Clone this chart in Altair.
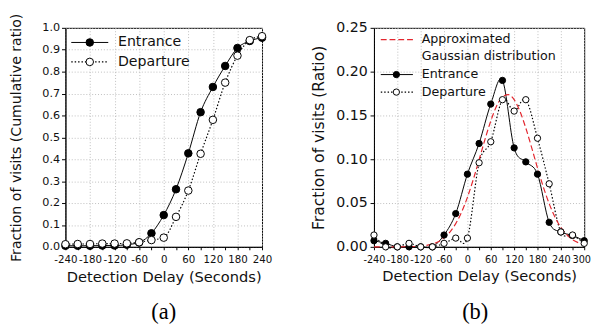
import altair as alt
import pandas as pd

# ---------------- data ----------------
delay_a = [-240, -210, -180, -150, -120, -90, -60, -30, 0, 30, 60, 90, 120, 150, 180, 210, 240]
entrance_cum = [0.005, 0.005, 0.005, 0.006, 0.006, 0.010, 0.020, 0.062, 0.145, 0.263, 0.427,
                0.615, 0.730, 0.826, 0.908, 0.940, 0.955]
departure_cum = [0.012, 0.013, 0.013, 0.015, 0.015, 0.016, 0.021, 0.031, 0.042, 0.137, 0.257,
                 0.425, 0.580, 0.750, 0.873, 0.944, 0.962]

delay_b = [-240, -210, -180, -150, -120, -90, -60, -30, 0, 30, 60, 90, 120, 150, 180, 210, 240, 270, 300]
entrance_ratio = [0.007, 0.004, 0.000, 0.000, 0.000, 0.000, 0.0135, 0.038, 0.083, 0.118, 0.163,
                  0.190, 0.113, 0.097, 0.083, 0.028, 0.017, 0.013, 0.007]
departure_ratio = [0.0135, 0.000, 0.000, 0.004, 0.000, 0.000, 0.004, 0.010, 0.010, 0.096, 0.120,
                   0.168, 0.155, 0.168, 0.124, 0.072, 0.017, 0.0135, 0.004]

delay_fit = [-240, -225, -210, -195, -180, -165, -150, -135, -120, -105, -90, -75, -60, -45, -30, -15,
             0, 15, 30, 45, 60, 75, 90, 105, 120, 135, 150, 165, 180, 195, 210, 225, 240, 255, 270, 285, 300]
gaussian_fit = [0.0, 0.0, 0.0, 0.0, 0.0, 0.0001, 0.0002, 0.0004, 0.0008, 0.0017, 0.0032, 0.0059, 0.0102,
                0.0168, 0.0265, 0.0396, 0.0565, 0.0768, 0.0994, 0.1225, 0.1437, 0.1608, 0.1713, 0.1737,
                0.1680, 0.1547, 0.1356, 0.1133, 0.0901, 0.0683, 0.0493, 0.0339, 0.0222, 0.0139, 0.0082,
                0.0047, 0.0025]

xticks_a = list(range(-240, 241, 30))
xticks_b = list(range(-240, 301, 30))
yticks_a = [round(i * 0.1, 1) for i in range(11)]
yticks_b = [round(i * 0.05, 2) for i in range(6)]

df_ent_a = pd.DataFrame({"delay": delay_a, "value": entrance_cum})
df_dep_a = pd.DataFrame({"delay": delay_a, "value": departure_cum})
df_ent_b = pd.DataFrame({"delay": delay_b, "value": entrance_ratio})
df_dep_b = pd.DataFrame({"delay": delay_b, "value": departure_ratio})
df_fit_b = pd.DataFrame({"delay": delay_fit, "value": gaussian_fit})
dummy = pd.DataFrame({"k": [0]})

FONT = "DejaVu Sans"
grid_cond = {"condition": {"test": "datum.value % 60 === 0", "value": 1}, "value": 0}
label_expr = "datum.value % 60 === 0 ? ('' + datum.value) : ''"
last_label_offset = {"condition": {"test": "datum.value === 300", "value": -3}, "value": 0}


def legend_rule(x1, x2, y, color="black", dash=None, width=1):
    kw = dict(color=color, strokeWidth=width)
    if dash:
        kw["strokeDash"] = dash
    return alt.Chart(dummy).mark_rule(**kw).encode(x=alt.value(x1), x2=alt.value(x2), y=alt.value(y))


def legend_point(x, y, fill, size):
    return alt.Chart(dummy).mark_point(shape="circle", filled=True, fill=fill, stroke="black",
                                       strokeWidth=1, size=size, opacity=1).encode(
        x=alt.value(x), y=alt.value(y))


def legend_text(x, y, txt, size):
    return alt.Chart(dummy).mark_text(align="left", baseline="middle", font=FONT, fontSize=size,
                                      color="#111").encode(x=alt.value(x), y=alt.value(y), text=alt.value(txt))


# ---------------- panel (a) ----------------
xa = alt.X("delay:Q", scale=alt.Scale(domain=[-240, 240], nice=False),
           axis=alt.Axis(values=xticks_a, labelExpr=label_expr, gridOpacity=grid_cond,
                         title="Detection Delay (Seconds)", labelFontSize=10.5, titleFontSize=15,
                         tickSize=3, labelPadding=5, titlePadding=5, labelOverlap=False, labelFlush=False))
ya = alt.Y("value:Q", scale=alt.Scale(domain=[0, 1.0], nice=False),
           axis=alt.Axis(values=yticks_a, format=".1f", title="Fraction of visits (Cumulative ratio)",
                         labelFontSize=11.5, titleFontSize=14.5, tickSize=4, labelPadding=2,
                         titlePadding=19, labelOverlap=False))

PA = 60
a_layers = [
    alt.Chart(df_ent_a).mark_line(interpolate="monotone", color="black", strokeWidth=1).encode(x=xa, y=ya),
    alt.Chart(df_dep_a).mark_line(interpolate="monotone", color="black", strokeWidth=1.2,
                                  strokeDash=[1.5, 2]).encode(x=xa, y=ya),
    alt.Chart(df_ent_a).mark_point(shape="circle", filled=True, fill="black", stroke="black",
                                   strokeWidth=1, size=PA, opacity=1).encode(x=xa, y=ya),
    alt.Chart(df_dep_a).mark_point(shape="circle", filled=True, fill="white", stroke="black",
                                   strokeWidth=1, size=PA, opacity=1).encode(x=xa, y=ya),
    legend_rule(6, 44, 15),
    legend_point(25, 15, "black", PA),
    legend_text(54, 15, "Entrance", 14.5),
    legend_rule(6, 44, 35, dash=[1.5, 2], width=1.2),
    legend_point(25, 35, "white", PA),
    legend_text(54, 35, "Departure", 14.5),
]
panel_a = alt.layer(*a_layers).properties(
    width=202, height=225,
    title=alt.TitleParams("(a)", orient="bottom", font="Liberation Serif", fontSize=23,
                          fontWeight="normal", anchor="middle", offset=18, color="black"))

# ---------------- panel (b) ----------------
xb = alt.X("delay:Q", scale=alt.Scale(domain=[-240, 300], nice=False),
           axis=alt.Axis(values=xticks_b, labelExpr=label_expr, gridOpacity=grid_cond,
                         labelOffset=last_label_offset,
                         title="Detection Delay (Seconds)", labelFontSize=10, titleFontSize=15,
                         tickSize=3, labelPadding=5, titlePadding=5, labelOverlap=False, labelFlush=False))
yb = alt.Y("value:Q", scale=alt.Scale(domain=[0, 0.25], nice=False),
           axis=alt.Axis(values=yticks_b, format=".2f", title="Fraction of visits (Ratio)",
                         labelFontSize=14.5, titleFontSize=16, tickSize=4, labelPadding=3,
                         titlePadding=10, labelOverlap=False))

PB = 42
RED = "#e3262e"
b_layers = [
    alt.Chart(df_ent_b).mark_line(interpolate="cardinal", color="black", strokeWidth=1).encode(x=xb, y=yb),
    alt.Chart(df_dep_b).mark_line(interpolate="cardinal", color="black", strokeWidth=1.2,
                                  strokeDash=[1.5, 2]).encode(x=xb, y=yb),
    alt.Chart(df_fit_b).mark_line(interpolate="monotone", color=RED, strokeWidth=1.2,
                                  strokeDash=[6, 3]).encode(x=xb, y=yb),
    alt.Chart(df_ent_b).mark_point(shape="circle", filled=True, fill="black", stroke="black",
                                   strokeWidth=1, size=PB, opacity=1).encode(x=xb, y=yb),
    alt.Chart(df_dep_b).mark_point(shape="circle", filled=True, fill="white", stroke="black",
                                   strokeWidth=1, size=PB, opacity=1).encode(x=xb, y=yb),
    legend_rule(7, 40, 12, color=RED, dash=[6, 3], width=1.3),
    legend_text(49, 12, "Approximated", 13),
    legend_text(49, 29, "Gaussian distribution", 13),
    legend_rule(7, 40, 48),
    legend_point(23, 48, "black", PB),
    legend_text(49, 48, "Entrance", 13),
    legend_rule(7, 40, 66, dash=[1.5, 2], width=1.2),
    legend_point(23, 66, "white", PB),
    legend_text(49, 66, "Departure", 13),
]
panel_b = alt.layer(*b_layers).properties(
    width=216, height=225,
    title=alt.TitleParams("(b)", orient="bottom", font="Liberation Serif", fontSize=23,
                          fontWeight="normal", anchor="middle", offset=18, color="black", dx=-4))

chart = alt.hconcat(panel_a, panel_b, spacing=38).properties(
    padding={"left": 0, "top": 0, "right": 0, "bottom": 0}
).configure_view(stroke="black", strokeWidth=1).configure_axis(
    domainColor="black", tickColor="black", labelColor="#111", titleColor="#111",
    gridColor="#bdbdbd", gridDash=[1, 2], labelFont=FONT, titleFont=FONT,
    titleFontWeight="normal", domainWidth=1
)

chart.save("out.html", embed_options={"renderer": "svg", "actions": False})
